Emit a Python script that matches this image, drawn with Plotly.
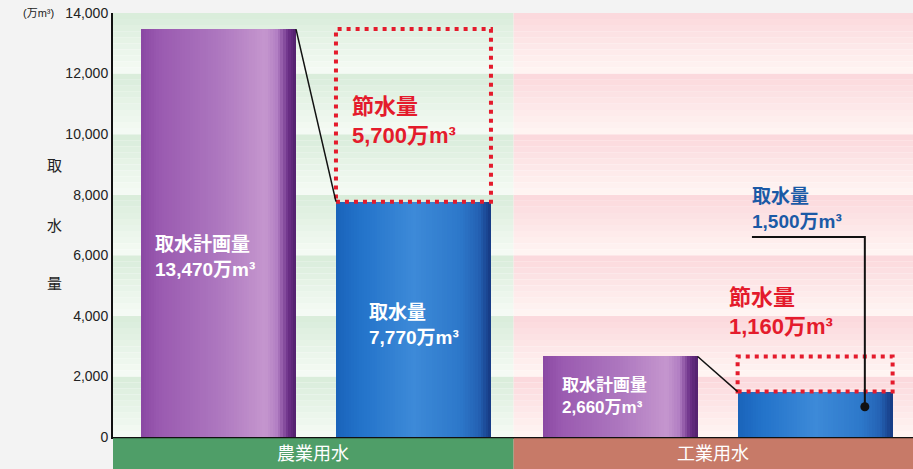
import plotly.graph_objects as go

# ---- data -------------------------------------------------------------
groups = ["農業用水", "工業用水"]
planned = [13470, 2660]          # 取水計画量 (万m³)
actual = [7770, 1500]            # 取水量 (万m³)
saved = [p - a for p, a in zip(planned, actual)]   # 節水量 (万m³)

y_tick_vals = [0, 2000, 4000, 6000, 8000, 10000, 12000, 14000]
y_tick_text = ["0", "2,000", "4,000", "6,000", "8,000", "10,000", "12,000", "14,000"]

# ---- layout constants -------------------------------------------------
GROUP_STEP = 2.06
BAR_W = 0.795
X_MIN, X_MAX = -0.541, 3.562
Y_MAX = 14000
N_SLICES = 60

FONT = "Liberation Sans, Noto Sans CJK JP, sans-serif"
RED = "#e41b2c"
BLUE_TXT = "#1b5aa6"

plan_x = [g * GROUP_STEP for g in range(len(groups))]
act_x = [g * GROUP_STEP + 1.0 for g in range(len(groups))]


def hex_rgb(h):
    h = h.lstrip("#")
    return tuple(int(h[i:i + 2], 16) for i in (0, 2, 4))


def interp(stops, t):
    for (t0, c0), (t1, c1) in zip(stops, stops[1:]):
        if t0 <= t <= t1:
            f = 0 if t1 == t0 else (t - t0) / (t1 - t0)
            a, b = hex_rgb(c0), hex_rgb(c1)
            r = [round(a[i] + (b[i] - a[i]) * f) for i in range(3)]
            return f"rgb({r[0]},{r[1]},{r[2]})"
    return stops[-1][1]


purple_stops = [(0.0, "#8a48a3"), (0.12, "#9a5ab0"), (0.5, "#ad77bf"),
                (0.8, "#c596ce"), (0.88, "#b27ec3"), (0.95, "#6c3088"), (1.0, "#52206c")]
blue_stops = [(0.0, "#1a63ba"), (0.15, "#2272c9"), (0.5, "#3d8ad8"),
              (0.8, "#2d78ca"), (0.92, "#2462b4"), (1.0, "#163982")]

fig = go.Figure()

# bars built from vertical gradient slices
step = BAR_W / N_SLICES
for k in range(N_SLICES):
    t = (k + 0.5) / N_SLICES
    width = min(step * 1.25, BAR_W - k * step)
    offset = -BAR_W / 2 + k * step
    fig.add_trace(go.Bar(
        x=plan_x, y=planned, width=width, offset=offset,
        marker=dict(color=interp(purple_stops, t), line=dict(width=0)),
        hoverinfo="skip", showlegend=False))
    fig.add_trace(go.Bar(
        x=act_x, y=actual, width=width, offset=offset,
        marker=dict(color=interp(blue_stops, t), line=dict(width=0)),
        hoverinfo="skip", showlegend=False))

shapes = []
annotations = []

# striped background panels (one tint per group)
split = ((act_x[0] + plan_x[1]) / 2 - X_MIN) / (X_MAX - X_MIN) - 0.004
panels = [(0, split, "#d8ecda", "#f6fbf5"), (split, 1, "#fbd8dc", "#fff5f3")]
SUB = 10
for x0, x1, top_c, bot_c in panels:
    for band in range(0, Y_MAX, 2000):
        for j in range(SUB):
            yt = band + 2000 - j * 2000 / SUB
            yb = yt - 2000 / SUB
            col = interp([(0, top_c), (1, bot_c)], (j + 0.5) / SUB)
            shapes.append(dict(type="rect", xref="paper", yref="y",
                               x0=x0, x1=x1, y0=yb, y1=yt,
                               fillcolor=col, line=dict(width=0), layer="below"))

# category strip under the axis
strip_colors = ["#4f9e68", "#c77a68"]
bounds = [0, split, 1]
for i, g in enumerate(groups):
    shapes.append(dict(type="rect", xref="paper", yref="paper",
                       x0=bounds[i], x1=bounds[i + 1], y0=-0.076, y1=-0.003,
                       fillcolor=strip_colors[i], line=dict(width=0)))
    annotations.append(dict(xref="paper", yref="paper",
                            x=(bounds[i] + bounds[i + 1]) / 2, y=-0.04,
                            xanchor="center", yanchor="middle",
                            text=g, showarrow=False,
                            font=dict(family=FONT, size=18, color="white")))

for g in range(len(groups)):
    # saved-water dotted box
    shapes.append(dict(type="rect", xref="x", yref="y",
                       x0=act_x[g] - BAR_W / 2, x1=act_x[g] + BAR_W / 2,
                       y0=actual[g], y1=planned[g],
                       line=dict(color=RED, width=4, dash="4px,5px")))
    # connector from planned top to actual top
    shapes.append(dict(type="line", xref="x", yref="y",
                       x0=plan_x[g] + BAR_W / 2, y0=planned[g],
                       x1=act_x[g] - BAR_W / 2, y1=actual[g],
                       line=dict(color="#111111", width=1.5)))

# leader for the industrial 取水量 label
dot_x = act_x[1] + 0.255
dot_y = 1000
shapes.append(dict(type="path", xref="x", yref="y",
                   path=f"M {dot_x},{dot_y} L {dot_x},6600 L 2.736,6600",
                   line=dict(color="#111111", width=2)))
fig.add_trace(go.Scatter(x=[dot_x], y=[dot_y], mode="markers",
                         marker=dict(color="#111111", size=9),
                         hoverinfo="skip", showlegend=False))


def fmt(v):
    return f"{v:,}万m³"


def label(x, y, text, color, size):
    annotations.append(dict(xref="x", yref="y", x=x, y=y, text=text,
                            xanchor="left", yanchor="middle", align="left",
                            showarrow=False,
                            font=dict(family=FONT, size=size, color=color, weight="bold")))


label(plan_x[0] - BAR_W / 2 + 0.06, 5950, "取水計画量<br>" + fmt(planned[0]), "white", 19)
label(act_x[0] - BAR_W / 2 + 0.16, 3700, "取水量<br>" + fmt(actual[0]), "white", 19)
label(act_x[0] - BAR_W / 2 + 0.07, 10450, "節水量<br>" + fmt(saved[0]), RED, 22)
label(plan_x[1] - BAR_W / 2 + 0.09, 1350, "取水計画量<br>" + fmt(planned[1]), "white", 17)
label(2.608, 4130, "節水量<br>" + fmt(saved[1]), RED, 22)
label(2.726, 7530, "取水量<br>" + fmt(actual[1]), BLUE_TXT, 19)

# vertical axis title and unit
for ch, yv in zip("取水量", [8950, 7000, 5080]):
    annotations.append(dict(xref="paper", yref="y", x=-0.085, y=yv, text=ch,
                            showarrow=False,
                            font=dict(family=FONT, size=15, color="#222222")))
annotations.append(dict(xref="paper", yref="y", x=-0.071, y=Y_MAX, text="(万m³)",
                        xanchor="right", yanchor="middle", showarrow=False,
                        font=dict(family=FONT, size=11, color="#222222")))

fig.update_layout(
    width=913, height=469,
    margin=dict(l=113, r=0, t=13, b=32),
    paper_bgcolor="#f3f3f3", plot_bgcolor="#ffffff",
    barmode="overlay", bargap=0,
    shapes=shapes, annotations=annotations,
    xaxis=dict(range=[X_MIN, X_MAX], showgrid=False, zeroline=False,
               showticklabels=False, showline=True, linecolor="#111111",
               linewidth=2, fixedrange=True),
    yaxis=dict(range=[0, Y_MAX], tickvals=y_tick_vals, ticktext=y_tick_text,
               showgrid=False, zeroline=False, showline=True,
               linecolor="#111111", linewidth=2, ticks="",
               tickfont=dict(family=FONT, size=14, color="#222222"),
               fixedrange=True),
    font=dict(family=FONT),
)

fig.write_html("out.html")
